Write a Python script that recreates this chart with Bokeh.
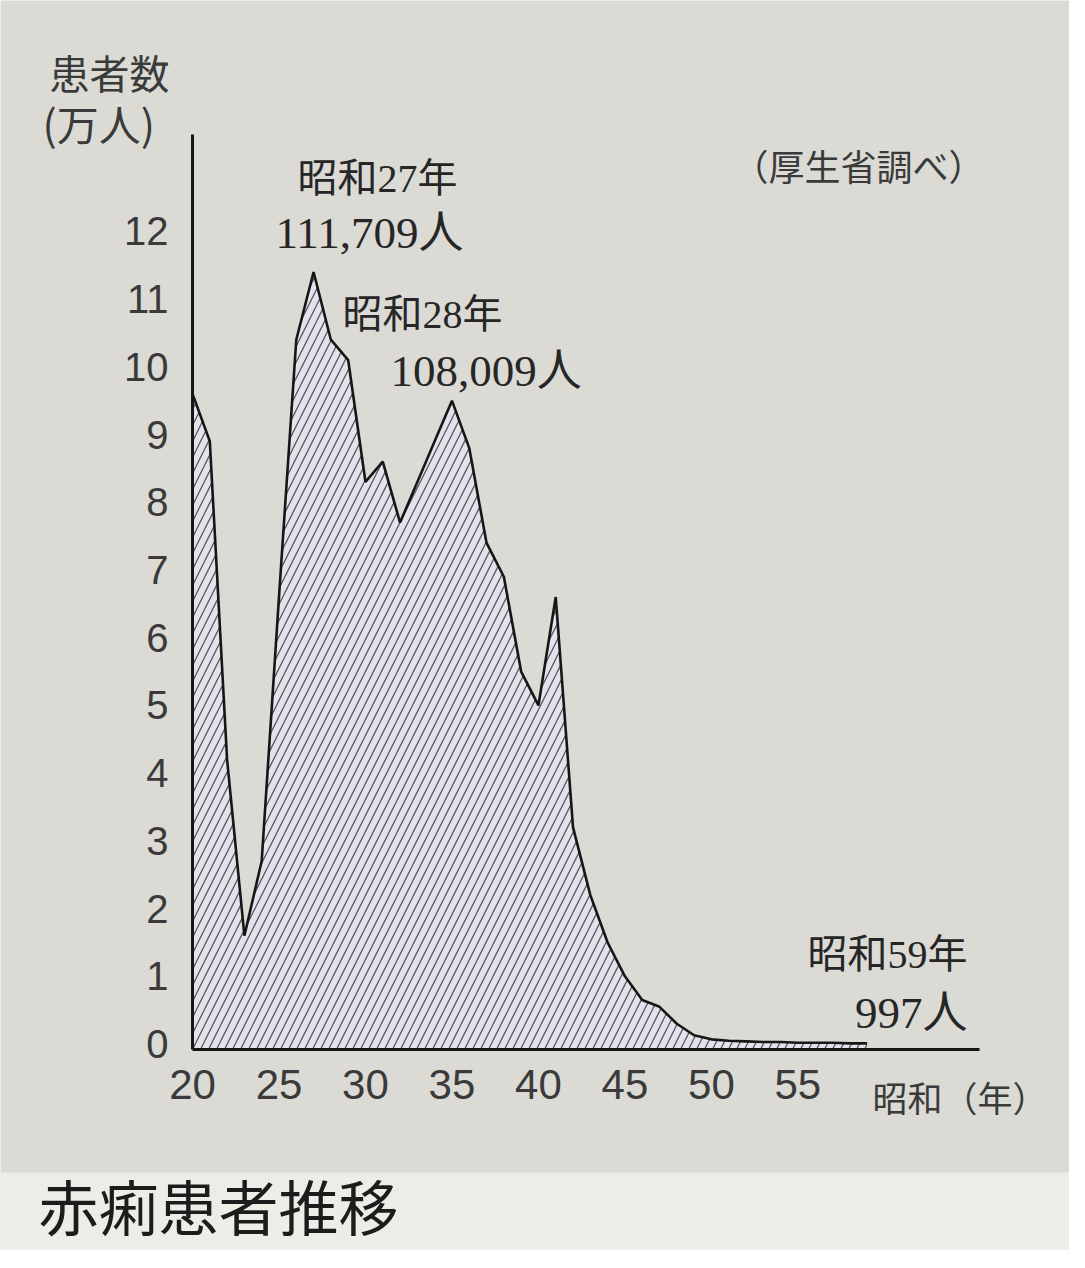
from bokeh.plotting import figure
from bokeh.models import Range1d, FixedTicker, Label, LinearAxis, BoxAnnotation
from bokeh.embed import file_html
from bokeh.resources import INLINE

# ---- data (昭和 year, 赤痢患者数 in 万人) ----
years = list(range(20, 60))
patients = [9.6, 8.9, 4.2, 1.6, 2.7, 6.6, 10.4, 11.4, 10.4, 10.1,
            8.3, 8.6, 7.7, 8.3, 8.9, 9.5, 8.8, 7.4, 6.9, 5.5,
            5.0, 6.6, 3.2, 2.2, 1.5, 1.0, 0.65, 0.55, 0.3, 0.13,
            0.07, 0.05, 0.04, 0.03, 0.03, 0.02, 0.02, 0.02, 0.01, 0.01]
x_ticks = [20, 25, 30, 35, 40, 45, 50, 55]
y_ticks = list(range(0, 13))

PANEL = "#dbdad5"
BAND = "#edece7"
INK = "#262626"

# page-pixel geometry of the chart axes
FL, FR, FT, FB = 200, 987, 142, 1057
X0, X1 = 20, 65.5
Y0, Y1 = -0.08, 13.43
W, H = 1069, 1250
PXX = (FR - FL) / (X1 - X0)
PXY = (FB - FT) / (Y1 - Y0)


def dx(px):
    return X0 + (px - FL) / PXX


def dy(py):
    return Y0 + (FB - py) / PXY


p = figure(width=W, height=H,
           x_range=Range1d(dx(8), dx(8 + W)), y_range=Range1d(dy(8 + H), dy(8)),
           x_axis_type=None, y_axis_type=None,
           output_backend="svg", toolbar_location=None,
           min_border_left=0, min_border_right=0, min_border_top=0, min_border_bottom=0)
p.background_fill_color = PANEL
p.border_fill_color = PANEL
p.outline_line_color = None
p.grid.visible = False

# lighter band under the chart panel (title strip)
p.add_layout(BoxAnnotation(top=dy(1180), fill_color=BAND, fill_alpha=1.0,
                           line_color=None, level="underlay"))

base = [Y0] * len(years)
p.varea(x=years, y1=base, y2=patients, fill_color="#e6e2ec",
        hatch_pattern="/", hatch_color="#55535e", hatch_weight=1.3, hatch_scale=16)
p.line(x=years, y=patients, line_color="#161616", line_width=2.6)

xaxis = LinearAxis(fixed_location=Y0, bounds=(X0, X1), ticker=FixedTicker(ticks=x_ticks))
yaxis = LinearAxis(fixed_location=X0, bounds=(Y0, Y1), ticker=FixedTicker(ticks=y_ticks))
for ax in (xaxis, yaxis):
    ax.axis_line_width = 3
    ax.axis_line_color = "#151515"
    ax.major_tick_line_color = None
    ax.minor_tick_line_color = None
    ax.major_tick_out = 0
    ax.major_tick_in = 0
    ax.major_label_text_font = "Liberation Sans"
    ax.major_label_text_color = "#3a3a3a"
xaxis.major_label_text_font_size = "42px"
yaxis.major_label_text_font_size = "40px"
xaxis.major_label_standoff = 20
yaxis.major_label_standoff = 24
p.add_layout(xaxis, "below")
p.add_layout(yaxis, "left")

CJK = "Noto Sans CJK JP"
SER = "'Liberation Serif', 'Noto Sans CJK JP'"


def lab(text, px, py, size, font=CJK, align="left", color=INK):
    p.add_layout(Label(x=dx(px), y=dy(py), text=text, text_font=font,
                       text_font_size=f"{size}px", text_align=align,
                       text_baseline="middle", text_color=color))


lab("患者数", 57, 79, 40, color="#3a3a3a")
lab("(万人)", 50, 130, 42, color="#3a3a3a")
lab("（厚生省調べ）", 740, 172, 36, color="#3a3a3a")
lab("昭和27年", 305, 186, 40, font=SER)
lab("111,709人", 283, 240, 45, font=SER)
lab("昭和28年", 350, 322, 40, font=SER)
lab("108,009人", 398, 378, 45, font=SER)
lab("昭和59年", 975, 962, 40, font=SER, align="right")
lab("997人", 975, 1020, 45, font=SER, align="right")
lab("昭和（年）", 880, 1104, 35, color="#3a3a3a")
lab("赤痢患者推移", 46, 1212, 60, color="#1c1c1c")

open("out.html", "w").write(file_html(p, INLINE))
